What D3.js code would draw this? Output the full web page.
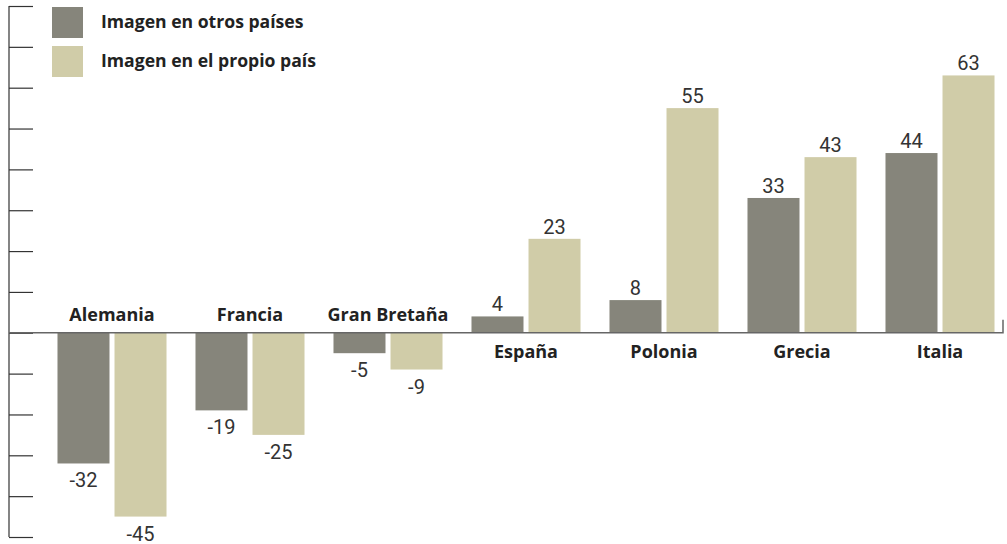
<!DOCTYPE html>
<html><head><meta charset="utf-8">
<script src="https://cdn.jsdelivr.net/npm/d3@7"></script>
<style>body{margin:0;background:#fff}svg{display:block}</style>
</head><body>
<script>
const categories = ["Alemania","Francia","Gran Bretaña","España","Polonia","Grecia","Italia"];
const seriesNames = ["Imagen en otros países","Imagen en el propio país"];
const otros = [-32,-19,-5,4,8,33,44];
const propio = [-45,-25,-9,23,55,43,63];
const yTicks = [-50,-40,-30,-20,-10,0,10,20,30,40,50,60,70,80];
const colors = ["#86857b","#d0cca8"];

const W=1007,H=544;
const svg=d3.select("body").append("svg").attr("width",W).attr("height",H);
const font="'Open Sans', sans-serif";
const numFont="Roboto, sans-serif";

const y=d3.scaleLinear().domain([-50,80]).range([537,6]);
const x=d3.scaleBand().domain(categories).range([43,1009]).paddingInner(0.21).paddingOuter(0.105);
const xs=d3.scaleBand().domain([0,1]).range([0,x.bandwidth()]).paddingInner(0.088);

// left axis
const ax=svg.append("g").attr("transform","translate(9,0)")
  .call(d3.axisRight(y).tickValues(yTicks).tickSize(24).tickFormat(""));
ax.select(".domain").attr("stroke","#333").attr("stroke-width",1.2).attr("d",`M0,${y(80)}V${y(-50)}`);
ax.selectAll(".tick line").attr("stroke","#333").attr("stroke-width",1.2);

const data=categories.map((c,i)=>({c,vals:[otros[i],propio[i]]}));
const g=svg.append("g").selectAll("g").data(data).join("g")
  .attr("transform",d=>`translate(${x(d.c)},0)`);

g.selectAll("rect").data(d=>d.vals.map((v,k)=>({v,k}))).join("rect")
  .attr("x",d=>xs(d.k)).attr("width",xs.bandwidth())
  .attr("y",d=>y(Math.max(0,d.v))).attr("height",d=>Math.abs(y(d.v)-y(0)))
  .attr("fill",d=>colors[d.k]);

g.selectAll("text.val").data(d=>d.vals.map((v,k)=>({v,k}))).join("text")
  .attr("class","val")
  .attr("x",d=>xs(d.k)+xs.bandwidth()/2)
  .attr("y",d=>d.v>=0?y(d.v)-5:y(d.v)+24)
  .attr("text-anchor","middle").attr("font-family",numFont).attr("font-size",20)
  .attr("fill","#333").text(d=>d.v);

g.append("text")
  .attr("x",x.bandwidth()/2)
  .attr("y",d=>d.vals[0]<0?y(0)-12:y(0)+25)
  .attr("text-anchor","middle").attr("font-family",font).attr("font-weight",700)
  .attr("font-size",18).attr("fill","#222").text(d=>d.c);

// zero line
svg.append("path").attr("d",`M9,${y(0)}H1003V${y(0)-13}`).attr("fill","none")
  .attr("stroke","#666").attr("stroke-width",1.5);

// legend
const lg=svg.append("g").selectAll("g").data(seriesNames).join("g")
  .attr("transform",(d,i)=>`translate(52,${7+i*39})`);
lg.append("rect").attr("width",31).attr("height",31).attr("fill",(d,i)=>colors[i]);
lg.append("text").attr("x",49).attr("y",21).attr("font-family",font).attr("font-weight",700)
  .attr("font-size",17.6).attr("fill","#222").text(d=>d);
</script>
</body></html>
